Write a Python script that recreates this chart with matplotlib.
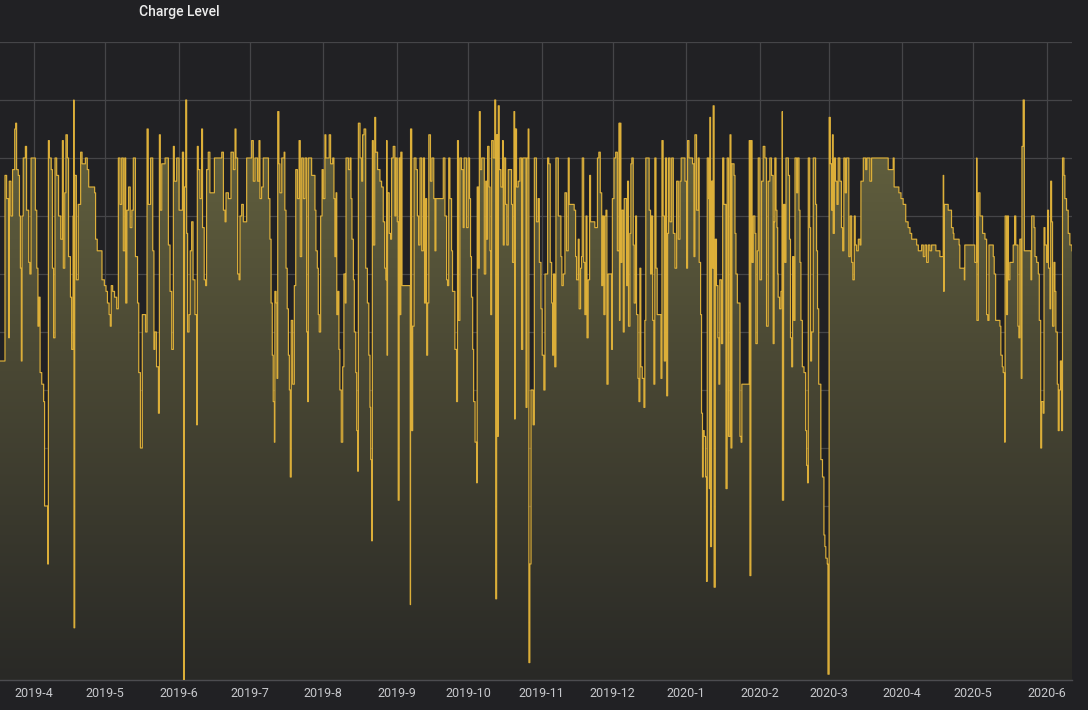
import numpy as np
import matplotlib
matplotlib.use("Agg")
import matplotlib.pyplot as plt
import matplotlib.dates as mdates
from matplotlib.colors import LinearSegmentedColormap
from matplotlib.ticker import FuncFormatter

# day offsets are counted from 2019-03-17 16:00 (left edge of the panel)
start = "2019-03-17T16:00"
end_day = 452.0

# 2019-03 .. 2019-05
days_spring = [
    0.0, 2.1, 2.8, 3.7, 3.9, 4.6, 5.3, 6.2, 6.6, 7.0,
    7.7, 8.2, 8.6, 9.0, 9.3, 9.8, 10.7, 11.2, 12.1, 12.6,
    13.1, 14.9, 15.5, 16.0, 16.4, 16.9, 17.6, 18.4, 18.8, 19.7,
    20.1, 20.4, 20.8, 21.6, 22.1, 22.6, 23.2, 23.9, 24.7, 25.6,
    26.3, 26.7, 27.3, 27.8, 28.4, 28.9, 29.7, 30.2, 30.8, 31.1,
    31.2, 31.5, 32.2, 33.0, 34.0, 34.6, 36.0, 36.8, 37.4, 39.9,
    40.3, 41.0, 43.0, 44.0, 44.7, 45.3, 46.0, 46.5, 46.9, 47.5,
    48.3, 49.2, 49.9, 50.6, 51.3, 52.0, 52.6, 53.0, 53.5, 54.2,
    54.9, 55.6, 56.2, 57.1, 58.0, 58.5, 59.2, 60.0, 61.4, 62.0,
    62.5, 63.5, 64.4, 64.9,
]
charge_spring = [
    55, 87, 83, 59, 86, 80, 88, 95, 96, 88,
    87, 80, 71, 55, 80, 90, 92, 81, 72, 70,
    90, 81, 71, 61, 66, 53, 51, 48, 30, 30,
    20, 93, 90, 88, 71, 59, 90, 87, 80, 76,
    93, 71, 84, 94, 90, 73, 66, 57, 80, 100,
    9, 87, 69, 82, 91, 89, 90, 88, 85, 84,
    76, 74, 69, 68, 67, 65, 63, 61, 68, 67,
    66, 64, 90, 82, 90, 74, 90, 65, 81, 85,
    78, 81, 90, 73, 65, 53, 40, 63, 60, 95,
    82, 90, 74, 57,
]

# 2019-05 .. 2019-07
days_summer = [
    65.3, 66.0, 66.8, 67.2, 67.6, 68.2, 69.6, 71.0, 71.7, 72.4,
    73.1, 73.5, 74.5, 75.5, 76.9, 77.4, 77.7, 78.3, 78.7, 79.1,
    79.7, 80.2, 80.8, 81.4, 82.2, 82.9, 83.2, 83.6, 84.3, 85.0,
    85.4, 86.1, 86.7, 87.1, 87.8, 88.5, 90.4, 93.5, 94.2, 94.9,
    95.3, 96.3, 97.4, 98.4, 99.1, 99.5, 100.2, 100.8, 101.2, 101.9,
    102.6, 104.0, 106.1, 106.8, 107.5, 108.6, 109.2, 109.6, 110.3, 111.0,
    113.2, 113.8, 114.3, 114.8, 115.2, 115.7, 115.9, 116.4, 116.8, 117.1,
    117.6, 118.0, 118.8, 119.8, 120.1, 120.6, 121.1, 121.6, 122.0, 122.4,
    122.8, 123.4, 124.1, 124.7, 125.4, 126.1, 126.6, 127.2, 127.9, 128.6,
    129.3, 129.7, 130.0,
]
charge_summer = [
    60, 54, 46, 94, 81, 89, 90, 75, 67, 57,
    92, 86, 90, 81, 91, 0, 85, 100, 77, 60,
    63, 74, 79, 69, 63, 44, 92, 88, 83, 95,
    78, 69, 68, 88, 91, 84, 90, 91, 81, 79,
    84, 83, 91, 88, 95, 90, 70, 69, 80, 82,
    79, 90, 93, 86, 90, 86, 93, 83, 85, 90,
    83, 76, 65, 56, 48, 41, 67, 65, 52, 98,
    89, 84, 90, 91, 81, 71, 64, 56, 50, 35,
    62, 51, 68, 88, 83, 93, 73, 90, 83, 90,
    60, 48, 90,
]

# 2019-07 .. 2019-09
days_late = [
    130.7, 131.4, 132.8, 133.2, 133.8, 134.2, 134.6, 135.2, 135.8, 136.3,
    137.0, 137.4, 138.8, 139.4, 140.3, 140.8, 141.2, 141.7, 142.0, 142.5,
    142.9, 143.3, 143.9, 144.5, 145.0, 145.6, 145.9, 146.9, 147.6, 148.0,
    148.4, 149.0, 149.4, 150.0, 150.4, 150.8, 151.1, 151.8, 152.5, 152.9,
    153.5, 154.2, 154.9, 155.5, 156.0, 156.3, 156.7, 157.0, 157.4, 158.0,
    158.4, 159.2, 160.2, 160.9, 161.6, 162.2, 162.7, 163.0, 163.2, 163.4,
    164.1, 164.7, 165.1, 165.8, 166.5, 166.9, 167.5, 167.9, 168.3, 168.6,
    169.0, 169.5, 172.6, 173.0, 173.1, 173.6, 174.0, 174.6, 175.4, 176.0,
    176.5, 177.1, 177.8, 178.5, 179.0, 179.5, 179.9, 180.3, 180.8, 181.5,
    182.1, 182.9, 183.4, 183.8, 186.2, 186.9, 187.6, 188.3, 188.7, 189.2,
    189.7, 190.4, 190.8, 191.8, 192.5, 192.9, 193.3, 193.9, 194.6, 195.3,
    195.7,
]
charge_late = [
    90, 87, 81, 74, 71, 63, 60, 80, 88, 83,
    94, 90, 94, 89, 90, 83, 73, 84, 63, 67,
    57, 50, 41, 54, 70, 65, 90, 88, 90, 83,
    76, 69, 60, 53, 43, 36, 96, 90, 86, 94,
    95, 71, 65, 56, 47, 38, 24, 93, 75, 97,
    91, 88, 86, 85, 79, 71, 69, 93, 56, 84,
    77, 76, 90, 92, 80, 90, 79, 31, 90, 63,
    91, 68, 68, 13, 95, 43, 61, 90, 88, 80,
    75, 90, 74, 90, 65, 83, 56, 65, 94, 86,
    90, 83, 74, 83, 83, 90, 80, 69, 68, 90,
    83, 74, 67, 57, 48, 93, 62, 90, 88, 78,
    90,
]

# 2019-10 .. 2019-12
days_autumn = [
    196.0, 196.7, 197.4, 198.0, 198.4, 198.8, 199.3, 199.7, 200.3, 201.0,
    201.2, 201.7, 202.1, 202.5, 203.1, 204.2, 204.8, 205.2, 205.6, 206.2,
    206.6, 206.9, 207.3, 208.0, 208.6, 209.0, 209.4, 209.8, 210.1, 210.5,
    211.2, 211.9, 212.2, 212.6, 213.2, 213.7, 214.3, 215.7, 216.1, 216.7,
    217.0, 217.2, 217.8, 218.5, 219.2, 219.9, 220.4, 221.8, 222.2, 222.7,
    223.0, 223.4, 223.9, 224.8, 225.3, 226.2, 226.9, 227.4, 228.1, 228.6,
    229.3, 229.8, 230.9, 231.4, 232.0, 232.6, 233.0, 233.4, 233.9, 234.4,
    235.4, 236.5, 236.9, 237.5, 238.2, 238.9, 239.6, 240.0, 242.1, 242.7,
    243.1, 243.8, 244.2, 244.8, 245.2, 245.5, 246.1, 246.6, 247.1, 247.5,
    248.0, 248.6, 249.0, 250.8, 251.9, 252.5, 253.1, 253.7, 254.1, 254.6,
    255.1, 255.5, 255.9, 256.4, 257.9, 258.2, 258.9, 259.6, 260.3, 261.0,
    261.2,
]
charge_autumn = [
    90, 78, 90, 83, 73, 66, 57, 48, 41, 34,
    85, 71, 98, 88, 90, 70, 86, 76, 92, 85,
    74, 63, 93, 90, 100, 14, 94, 42, 99, 88,
    85, 93, 75, 90, 82, 75, 88, 82, 72, 98,
    45, 95, 85, 86, 90, 57, 90, 47, 90, 95,
    3, 20, 50, 44, 90, 79, 83, 72, 64, 56,
    50, 70, 90, 89, 72, 65, 56, 70, 54, 90,
    80, 73, 68, 70, 84, 74, 90, 82, 81, 73,
    69, 76, 64, 71, 73, 90, 72, 63, 80, 59,
    69, 87, 79, 78, 90, 91, 84, 68, 80, 63,
    80, 81, 51, 70, 57, 83, 90, 91, 74, 96,
    62,
]

# 2019-12 .. 2020-02
days_winter = [
    261.4, 261.8, 262.2, 262.8, 263.2, 264.2, 264.6, 265.0, 265.6, 266.0,
    266.4, 267.0, 267.4, 268.0, 268.4, 269.0, 269.4, 269.8, 270.2, 270.8,
    271.5, 271.9, 272.3, 273.7, 274.3, 274.7, 275.2, 275.7, 276.1, 276.6,
    277.1, 278.7, 279.1, 279.6, 280.1, 280.6, 281.1, 281.5, 281.9, 282.5,
    283.2, 283.9, 284.6, 285.3, 286.0, 286.7, 287.2, 288.8, 289.5, 289.9,
    290.5, 292.0, 292.6, 293.0, 293.7, 294.4, 294.8, 295.4, 295.8, 296.2,
    296.5, 296.9, 297.5, 297.9, 298.2, 298.8, 299.1, 299.3, 299.6, 300.0,
    300.5, 300.7, 301.1, 301.6, 302.1, 302.7, 303.1, 303.5, 304.2, 304.7,
    305.2, 306.1, 306.6, 307.2, 307.8, 308.2, 308.6, 309.5, 309.9, 310.3,
    310.9, 312.0, 312.5, 312.8, 315.5, 315.9, 316.2, 316.6, 317.1, 317.6,
    318.3, 318.7, 319.3, 319.7, 320.4, 321.1, 321.8, 322.5, 323.2, 323.9,
    324.6, 325.3, 326.0, 326.4,
]
charge_winter = [
    96, 72, 81, 60, 83, 68, 86, 61, 77, 89,
    90, 75, 65, 80, 63, 52, 48, 71, 54, 52,
    47, 62, 90, 81, 70, 80, 62, 51, 90, 71,
    63, 52, 93, 80, 55, 90, 49, 77, 90, 79,
    90, 77, 71, 86, 76, 86, 90, 86, 71, 93,
    90, 89, 73, 94, 81, 90, 72, 63, 46, 35,
    43, 42, 35, 17, 90, 83, 33, 97, 23, 86,
    71, 99, 16, 76, 68, 59, 51, 69, 58, 90,
    82, 33, 90, 42, 94, 40, 89, 87, 77, 70,
    65, 42, 41, 51, 51, 93, 18, 93, 72, 80,
    77, 58, 74, 90, 69, 86, 92, 90, 61, 86,
    90, 87, 58, 79,
]

# 2020-02 .. 2020-04
days_2020a = [
    326.7, 327.2, 327.6, 327.9, 328.1, 328.7, 329.3, 329.8, 329.9, 330.4,
    330.9, 331.4, 332.4, 332.9, 333.3, 333.8, 334.2, 334.7, 335.2, 335.9,
    336.3, 336.9, 337.3, 337.7, 338.3, 339.0, 339.7, 340.1, 340.5, 340.8,
    341.4, 341.8, 342.2, 342.9, 343.9, 344.3, 344.7, 345.2, 346.0, 346.1,
    346.8, 347.4, 347.8, 348.2, 348.8, 349.1, 349.6, 350.1, 350.6, 351.0,
    351.3, 351.8, 352.3, 352.9, 353.4, 354.1, 354.8, 355.3, 355.8, 356.4,
    356.9, 357.9, 358.5, 359.1, 359.6, 360.2, 360.6, 361.2, 361.9, 362.6,
    363.0, 364.0, 365.0, 365.5, 366.8, 367.5, 374.5, 376.6, 377.0, 379.0,
    379.9, 380.8, 381.9, 382.9, 383.7, 384.4, 386.5, 387.2, 388.6, 389.3,
    390.0, 390.7, 391.4,
]
charge_2020a = [
    90, 81, 78, 70, 66, 64, 67, 98, 31, 82,
    72, 90, 87, 76, 59, 54, 73, 62, 90, 84,
    90, 81, 72, 62, 54, 53, 43, 37, 34, 90,
    78, 55, 60, 90, 82, 74, 64, 51, 51, 38,
    35, 25, 23, 21, 20, 1, 97, 89, 81, 94,
    77, 90, 86, 82, 90, 86, 78, 74, 90, 84,
    90, 73, 80, 72, 69, 80, 75, 74, 76, 75,
    86, 90, 88, 90, 86, 90, 88, 90, 85, 84,
    83, 82, 79, 78, 77, 76, 75, 74, 75, 73,
    75, 72, 75,
]

# 2020-04 .. 2020-06
days_2020b = [
    392.1, 392.8, 394.6, 396.3, 397.7, 397.9, 398.1, 399.8, 401.2, 401.9,
    402.2, 404.4, 404.7, 406.6, 406.8, 411.0, 411.8, 411.9, 412.5, 413.2,
    414.3, 415.3, 416.0, 416.5, 417.0, 418.8, 419.2, 419.8, 421.6, 422.0,
    422.6, 423.0, 423.6, 423.8, 424.4, 424.8, 425.2, 425.8, 427.2, 427.8,
    428.3, 429.2, 429.6, 430.0, 430.6, 430.9, 431.4, 431.9, 434.7, 435.0,
    436.0, 436.4, 437.1, 437.8, 438.2, 438.8, 439.2, 439.9, 440.2, 440.6,
    441.3, 441.7, 442.1, 442.7, 443.0, 443.4, 443.8, 444.4, 444.8, 445.2,
    445.8, 446.2, 446.6, 447.1, 447.6, 448.0, 448.6, 449.0, 449.7, 450.4,
    451.1, 452.0,
]
charge_2020b = [
    74, 75, 74, 73, 87, 67, 82, 81, 78, 77,
    76, 75, 71, 69, 75, 72, 90, 62, 84, 80,
    77, 76, 63, 62, 75, 73, 70, 62, 61, 56,
    54, 53, 41, 80, 63, 80, 69, 72, 75, 80,
    75, 61, 59, 76, 52, 92, 100, 74, 69, 80,
    78, 73, 72, 70, 62, 40, 48, 46, 78, 75,
    72, 81, 71, 64, 86, 79, 61, 72, 67, 60,
    51, 43, 50, 55, 43, 90, 87, 83, 81, 77,
    75, 74,
]

days = np.array(days_spring + days_summer + days_late + days_autumn
                + days_winter + days_2020a + days_2020b)
charge = np.array(charge_spring + charge_summer + charge_late + charge_autumn
                  + charge_winter + charge_2020a + charge_2020b)

t0 = mdates.date2num(np.datetime64(start))
x = t0 + days
x_end = t0 + end_day

bg = "#212124"
line_color = "#e6b63a"
grid_color = "#454548"

fig = plt.figure(figsize=(10.88, 7.10), dpi=100, facecolor=bg)
ax = fig.add_axes([0.0, 30 / 710, 1072 / 1088, 638 / 710])
ax.set_facecolor(bg)

# gradient fill under the step line
poly = ax.fill_between(x, charge, 0, step="post", facecolor="none", edgecolor="none")
cmap = LinearSegmentedColormap.from_list("fade", ["#292926", "#4a4834", "#6c6a42"])
grad = np.linspace(1, 0, 256).reshape(-1, 1)
im = ax.imshow(grad, cmap=cmap, extent=[x[0], x_end, 0, 110], aspect="auto", zorder=1)
im.set_clip_path(poly.get_paths()[0], transform=ax.transData)

ax.plot(x, charge, drawstyle="steps-post", color=line_color, lw=0.85, alpha=0.95, zorder=3)

ax.set_xlim(x[0], x_end)
ax.set_ylim(0, 110)
ax.set_yticks(np.arange(0, 111, 10))
ax.set_yticklabels([])
ax.tick_params(axis="y", length=0)

ax.xaxis.set_major_locator(mdates.MonthLocator())
ax.xaxis.set_major_formatter(FuncFormatter(
    lambda v, pos: f"{mdates.num2date(v).year}-{mdates.num2date(v).month}"))
ax.tick_params(axis="x", length=0, pad=5, labelsize=9, labelcolor="#c7c8cc")
for lbl in ax.get_xticklabels():
    lbl.set_family("Roboto")

ax.grid(True, color=grid_color, lw=0.9, zorder=0)
ax.set_axisbelow(True)
for side in ["top", "left", "right"]:
    ax.spines[side].set_visible(False)
ax.spines["bottom"].set_color("#4c4c50")
ax.spines["bottom"].set_linewidth(1.0)

fig.text(139 / 1088, 1 - 12 / 710, "Charge Level", ha="left", va="center",
         color="#ececec", fontsize=10, fontweight="medium", family="Roboto")

fig.savefig("out.png", dpi=100, facecolor=bg)
